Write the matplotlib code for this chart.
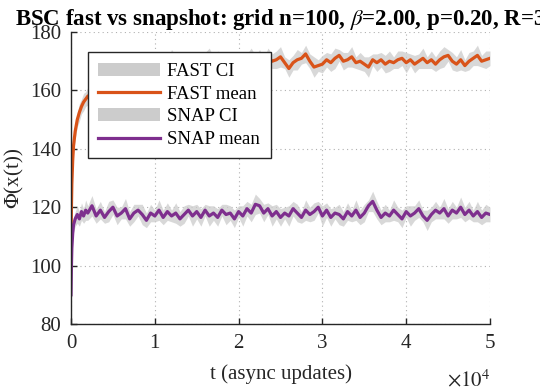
import matplotlib
matplotlib.use("Agg")
import matplotlib.pyplot as plt
from matplotlib.patches import Patch
from matplotlib.lines import Line2D
import numpy as np

plt.rcParams['font.family'] = ['Liberation Serif', 'DejaVu Serif']
plt.rcParams['mathtext.fontset'] = 'stix'

# sample times (async updates)
t_early = [0, 50, 100, 200, 300, 500, 750, 1000, 1250, 1500, 1750, 2000]
t_main = list(range(2500, 50001, 500))
t = np.array(t_early + t_main)

fast_mean = [108, 120, 128, 136, 141, 146, 150, 152.5, 154.5, 156, 157, 158,
             159, 160, 161, 162, 162.5, 163.5, 164, 165, 165.5, 166,
             166.5, 167, 167.5, 168, 168.5, 169, 169.5, 170, 169, 170.5,
             169.5, 170, 171, 169.5, 170.5, 169, 170.5, 170, 171, 169.5,
             170.5, 170, 169, 171, 170, 170.5, 169.5, 170.5, 171.5, 169.5,
             170.5, 169, 171.5, 170, 170.5, 171.5, 169.5, 167.5, 169.5, 170.5,
             171, 172.5, 170, 168, 168.5, 169, 170.5, 169.5, 171, 172,
             170, 170.5, 171.5, 169.5, 170, 169, 168, 170.5, 169.5, 170.5,
             169, 170, 169.5, 170.5, 171, 169.5, 170.5, 169, 170, 171,
             169.5, 170.5, 169, 170.5, 171.5, 172, 170, 169, 170.5, 168.5,
             170, 171, 172, 170, 170.5, 171]

snap_mean = [90, 100, 106, 111, 114, 116, 117.5, 116, 118.5, 117, 119, 118,
             120.5, 117, 119, 116.5, 118.5, 120, 117, 118, 119.5, 116,
             118, 119, 117.5, 115.5, 118, 117, 119, 116.5, 118.5, 117,
             118, 116, 117.5, 119, 117, 118.5, 116.5, 119, 117, 118,
             116.5, 119, 117.5, 118, 116, 118.5, 117, 119.5, 118, 121,
             120.5, 118, 119.5, 117, 118.5, 116.5, 118, 117, 119.5, 118,
             116.5, 119, 117.5, 118.5, 120, 117, 119, 116.5, 118, 117.5,
             116, 118.5, 117, 119, 116.5, 118, 120.5, 122, 119, 116.5,
             118, 117, 119, 117.5, 116, 118.5, 117, 118, 119.5, 117,
             115.5, 117.5, 119, 118, 119.5, 117, 119, 118, 120, 117.5,
             119, 117, 118.5, 116.5, 118, 117.5]

# half-widths of the confidence bands
fast_ci = [1.0, 1.5, 2.0, 2.0, 2.5, 2.5, 2.5, 3.0, 2.5, 3.0, 2.5, 3.0,
           2.5, 3.0, 2.0, 3.5, 2.5, 3.0, 2.0, 3.0, 2.5, 3.5,
           2.0, 3.0, 2.5, 3.0, 2.0, 3.5, 2.5, 3.0, 2.0, 3.5,
           2.5, 3.0, 2.0, 3.5, 2.5, 3.0, 2.0, 3.0, 3.5, 2.0,
           3.0, 2.5, 3.5, 2.0, 3.0, 2.5, 3.5, 2.0, 3.0, 2.5,
           3.5, 2.0, 3.0, 2.5, 3.0, 3.5, 2.0, 3.0, 2.5, 3.5,
           2.0, 3.0, 2.5, 3.5, 2.0, 3.0, 2.5, 3.0, 3.5, 2.0,
           3.0, 2.5, 3.5, 2.0, 3.0, 2.5, 3.5, 2.0, 3.0, 2.5,
           3.0, 3.5, 2.0, 3.0, 2.5, 3.5, 2.0, 3.0, 2.5, 3.5,
           2.0, 3.0, 2.5, 3.0, 3.5, 2.0, 3.0, 2.5, 3.5, 2.0,
           3.0, 2.5, 3.5, 2.0, 3.0, 2.5]

snap_ci = [1.0, 1.5, 2.0, 2.0, 2.5, 2.5, 3.0, 2.5, 3.0, 2.5, 3.5, 2.5,
           3.5, 2.5, 3.0, 2.0, 3.5, 2.5, 3.0, 2.0, 3.5, 2.5,
           3.0, 2.0, 3.5, 2.5, 3.0, 2.0, 3.5, 2.5, 3.0, 2.0,
           3.5, 2.5, 3.0, 2.0, 3.5, 2.5, 3.0, 2.0, 3.5, 2.5,
           3.0, 2.0, 3.5, 2.5, 3.0, 2.0, 3.5, 2.5, 3.0, 3.5,
           2.5, 3.0, 2.0, 3.5, 2.5, 3.0, 2.0, 3.5, 2.5, 3.0,
           2.0, 3.5, 2.5, 3.0, 2.0, 3.5, 2.5, 3.0, 2.0, 3.5,
           2.5, 3.0, 2.0, 3.5, 2.5, 3.0, 2.0, 3.5, 3.0, 2.5,
           3.0, 2.0, 3.5, 2.5, 3.0, 2.0, 3.5, 2.5, 3.0, 2.0,
           3.5, 2.5, 3.0, 2.0, 3.5, 2.5, 3.0, 2.0, 3.5, 2.5,
           3.0, 2.0, 3.5, 2.5, 3.0, 2.5]

x_ticks = [0, 10000, 20000, 30000, 40000, 50000]
x_tick_labels = ['0', '1', '2', '3', '4', '5']
y_ticks = [80, 100, 120, 140, 160, 180]

fast_color = '#D95319'
snap_color = '#7E2F8E'
ci_color = '#cccccc'
ink = '#262626'

fm = np.array(fast_mean)
sm = np.array(snap_mean)
fc = np.array(fast_ci)
sc = np.array(snap_ci)

fig = plt.figure(figsize=(5.4, 3.9), dpi=100)
ax = fig.add_axes([0.1315, 0.1692, 0.7759, 0.7487])

ax.fill_between(t, fm - fc, fm + fc, color=ci_color, alpha=0.75, linewidth=0)
ax.plot(t, fm, color=fast_color, linewidth=2.3)
ax.fill_between(t, sm - sc, sm + sc, color=ci_color, alpha=0.75, linewidth=0)
ax.plot(t, sm, color=snap_color, linewidth=2.3)

ax.set_xlim(0, 50000)
ax.set_ylim(80, 180)
ax.set_xticks(x_ticks)
ax.set_xticklabels(x_tick_labels)
ax.set_yticks(y_ticks)

ax.grid(True, color='#b0b0b0', linestyle=(0, (1, 3)), linewidth=0.8)
ax.set_axisbelow(True)
for side in ['top', 'right']:
    ax.spines[side].set_visible(False)
for side in ['left', 'bottom']:
    ax.spines[side].set_color(ink)
    ax.spines[side].set_linewidth(1.0)
ax.tick_params(direction='in', length=4, width=1.0, color=ink,
               labelsize=15, labelcolor=ink, pad=7)

ax.set_xlabel('t (async updates)', fontsize=15, color=ink, labelpad=8)
ax.set_ylabel(r'$\Phi$(x(t))', fontsize=15, color=ink, labelpad=3)
ax.set_title(r'BSC fast vs snapshot: grid n=100, $\beta$=2.00, p=0.20, R=3',
             fontsize=16.5, fontweight='bold', pad=3)
ax.text(1.0, -0.155, r'$\times 10^4$', transform=ax.transAxes, ha='right',
        va='top', fontsize=15, color=ink)

handles = [Patch(facecolor=ci_color, edgecolor='none'),
           Line2D([], [], color=fast_color, linewidth=2.3),
           Patch(facecolor=ci_color, edgecolor='none'),
           Line2D([], [], color=snap_color, linewidth=2.3)]
labels = ['FAST CI', 'FAST mean', 'SNAP CI', 'SNAP mean']
leg = ax.legend(handles, labels, loc='upper left', bbox_to_anchor=(0.04, 0.93),
                borderaxespad=0, fontsize=13.5, fancybox=False, framealpha=1,
                edgecolor=ink, handlelength=3.3, handletextpad=0.4,
                labelspacing=0.3, borderpad=0.55)
leg.get_frame().set_linewidth(1.0)

fig.savefig('out.png', dpi=100)
